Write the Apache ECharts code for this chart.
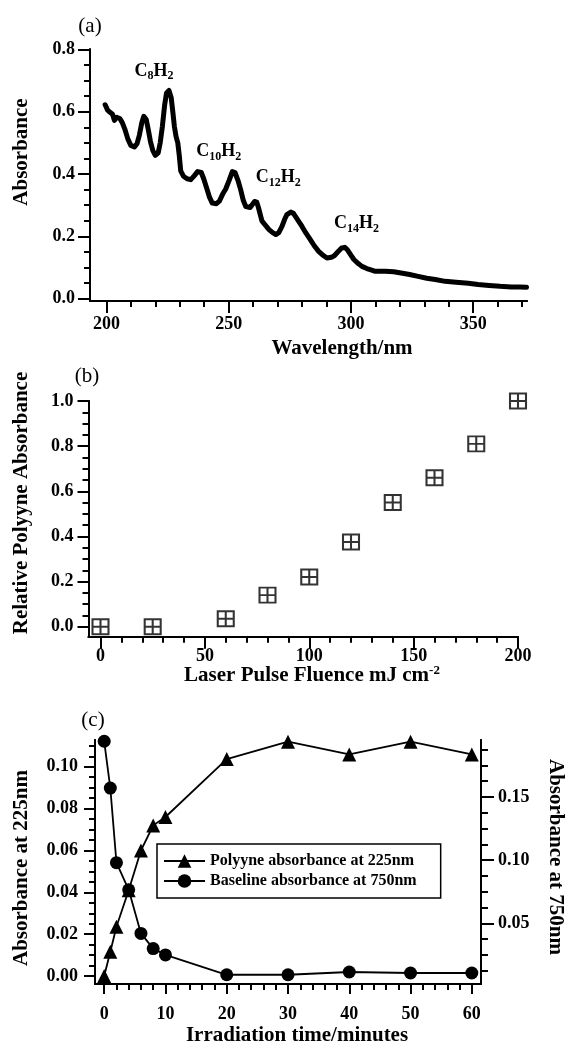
<!DOCTYPE html>
<html>
<head>
<meta charset="utf-8">
<script src="https://cdn.jsdelivr.net/npm/echarts@6/dist/echarts.min.js"></script>
<style>html,body{margin:0;padding:0;background:#fff}#chart{width:565px;height:1043px}</style>
</head>
<body>
<div id="chart"></div>
<script>
// ---------- Panel (a): absorption spectrum ----------
const wavelengthNm = [199.5,200.5,201.5,202.5,203.3,204.2,205.5,206.5,207.5,208.8,210.0,211.5,212.5,213.5,214.5,215.3,216.3,217.2,218.0,219.0,220.0,221.2,222.0,222.9,223.8,224.6,225.6,226.5,227.3,227.8,228.5,229.2,229.8,230.4,231.5,233.0,234.5,236.0,237.3,238.8,239.8,241.0,242.2,243.3,245.0,246.2,247.5,248.8,250.2,251.5,252.6,253.8,254.9,256.0,257.0,258.8,260.6,261.5,262.2,263.6,265.0,266.5,268.0,269.3,270.5,271.8,272.9,273.8,275.4,276.5,277.3,278.5,280.0,281.5,283.4,285.0,286.8,288.5,290.2,292.0,293.2,294.6,296.2,297.5,298.5,300.0,301.2,303.0,304.5,306.5,308.5,310.0,314.0,317.5,320.5,324.0,327.5,331.0,334.5,338.5,343.0,348.0,352.0,356.5,361.0,365.5,369.0,371.8];
const absorbanceA = [0.622,0.605,0.598,0.592,0.572,0.582,0.578,0.565,0.545,0.512,0.492,0.487,0.497,0.525,0.565,0.585,0.575,0.540,0.505,0.475,0.460,0.468,0.500,0.553,0.620,0.660,0.668,0.645,0.590,0.553,0.520,0.500,0.460,0.410,0.393,0.385,0.382,0.395,0.408,0.405,0.385,0.355,0.325,0.307,0.305,0.313,0.335,0.352,0.380,0.408,0.405,0.380,0.350,0.315,0.296,0.293,0.312,0.310,0.292,0.250,0.236,0.222,0.212,0.206,0.212,0.232,0.255,0.270,0.278,0.274,0.264,0.250,0.232,0.212,0.190,0.170,0.152,0.140,0.131,0.133,0.138,0.150,0.163,0.165,0.158,0.140,0.126,0.113,0.104,0.097,0.092,0.088,0.088,0.087,0.083,0.078,0.072,0.066,0.062,0.056,0.053,0.050,0.046,0.043,0.040,0.038,0.038,0.037];
const peakCarbons = ['8','10','12','14'];
const peakLabelWl = [219.5, 246.0, 270.3, 302.3];
const peakLabelAbs = [0.730, 0.472, 0.388, 0.241];
const aXMajor = [200,250,300,350];
const aXMinor = [210,220,230,240,260,270,280,290,310,320,330,340,360,370];
const aYMajor = [0,0.2,0.4,0.6,0.8];
const aYMinor = [0.05,0.1,0.15,0.25,0.3,0.35,0.45,0.5,0.55,0.65,0.7,0.75];

// ---------- Panel (b): fluence dependence ----------
const fluence = [0,25,60,80,100,120,140,160,180,200];
const relAbsorbance = [0.0,0.0,0.035,0.14,0.22,0.375,0.55,0.66,0.81,1.0];
const bXMajor = [0,50,100,150,200];
const bXMinor = [10,20,30,40,60,70,80,90,110,120,130,140,160,170,180,190];
const bYMajor = [0,0.2,0.4,0.6,0.8,1.0];
const bYMinor = [0.05,0.1,0.15,0.25,0.3,0.35,0.45,0.5,0.55,0.65,0.7,0.75,0.85,0.9,0.95];

// ---------- Panel (c): irradiation time ----------
const seriesNames = ['Polyyne absorbance at 225nm','Baseline absorbance at 750nm'];
const timeMin = [0,1,2,4,6,8,10,20,30,40,50,60];
const polyyne225 = [0.0,0.0116,0.0236,0.041,0.060,0.072,0.076,0.1037,0.112,0.1059,0.112,0.1059];
const baseline750 = [0.194,0.157,0.098,0.0765,0.042,0.030,0.025,0.0093,0.0093,0.0115,0.0107,0.0107];
const cXMajor = [0,10,20,30,40,50,60];
const cXMinor = [2,4,6,8,12,14,16,18,22,24,26,28,32,34,36,38,42,44,46,48,52,54,56,58];
const cYLMajor = [0,0.02,0.04,0.06,0.08,0.10];
const cYLMinor = [0.005,0.01,0.015,0.025,0.03,0.035,0.045,0.05,0.055,0.065,0.07,0.075,0.085,0.09,0.095,0.105,0.11];
const cYRMajor = [0.05,0.10,0.15];
const cYRMinor = [0.0125,0.025,0.0375,0.0625,0.075,0.0875,0.1125,0.125,0.1375,0.1625,0.175,0.1875];

const FONT = "'Liberation Serif', 'DejaVu Serif', serif";
const K = '#000';

function axisPair(gridIndex, min, max, position, majors, minors, majLen, minLen, margin, fmt) {
  const base = {
    type: 'value', gridIndex, min, max, position,
    splitLine: { show: false },
    axisLine: { show: true, onZero: false, lineStyle: { color: K, width: 2 } }
  };
  const main = Object.assign({}, base, {
    axisTick: { show: true, inside: false, length: majLen, customValues: majors, lineStyle: { color: K, width: 2 } },
    axisLabel: { show: true, customValues: majors, margin, color: K, fontFamily: FONT, fontWeight: 'bold', fontSize: 18, formatter: fmt }
  });
  const minor = Object.assign({}, base, {
    axisTick: { show: true, inside: false, length: minLen, customValues: minors, lineStyle: { color: K, width: 2 } },
    axisLabel: { show: false }
  });
  return [main, minor];
}

const xAxes = [].concat(
  axisPair(0, 193.3, 372, 'bottom', aXMajor, aXMinor, 12, 6, 14, v => String(v)),
  axisPair(1, -5.75, 200, 'bottom', bXMajor, bXMinor, 12, 6, 11, v => String(v)),
  axisPair(2, -1.5, 61.5, 'bottom', cXMajor, cXMinor, 10, 6, 21, v => String(v))
);
const yAxes = [].concat(
  axisPair(0, -0.007, 0.8, 'left', aYMajor, aYMinor, 12, 6, 15, v => v.toFixed(1)),
  axisPair(1, -0.0443, 1.0, 'left', bYMajor, bYMinor, 11, 6, 15, v => v.toFixed(1)),
  axisPair(2, -0.0038, 0.1128, 'left', cYLMajor, cYLMinor, 11, 6, 17, v => v.toFixed(2)),
  axisPair(2, 0.002, 0.195, 'right', cYRMajor, cYRMinor, 13, 7, 17, v => v.toFixed(2))
);

function title(text, x, y, rot, size, weight, rich) {
  const st = { text, fill: K, align: 'center', verticalAlign: 'middle', textAlign: 'center', textVerticalAlign: 'middle',
    font: (weight || 'bold') + ' ' + (size || 21) + 'px ' + FONT };
  if (rich) st.rich = rich;
  return { type: 'text', x, y, rotation: rot || 0, style: st, z: 100 };
}
const supRich = {
  m: { fontFamily: FONT, fontWeight: 'bold', fontSize: 21, lineHeight: 24, fill: K, color: K },
  sup: { fontFamily: FONT, fontWeight: 'bold', fontSize: 13, lineHeight: 12, verticalAlign: 'top', fill: K, color: K }
};

const peakData = peakCarbons.map((n, i) => ({ name: n, coord: [peakLabelWl[i], peakLabelAbs[i]] }));

const option = {
  backgroundColor: '#fff',
  animation: false,
  grid: [
    { left: 90, top: 49.3, width: 437, height: 251.7 },
    { left: 88.5, top: 401, width: 429.5, height: 235.7 },
    { left: 95, top: 740, width: 386, height: 244 }
  ],
  xAxis: xAxes,
  yAxis: yAxes,
  legend: {
    data: seriesNames,
    orient: 'vertical', left: 157, top: 844,
    itemWidth: 41, itemHeight: 17, itemGap: 4,
    padding: [9, 24, 9, 6],
    borderColor: K, borderWidth: 1.5,
    selectedMode: false,
    textStyle: { color: K, fontFamily: FONT, fontWeight: 'bold', fontSize: 16 }
  },
  graphic: [
    title('(a)', 90, 26, 0, 21, 'normal'),
    title('Absorbance', 22, 152, Math.PI / 2),
    title('Wavelength/nm', 342, 349, 0),
    title('(b)', 87, 376, 0, 21, 'normal'),
    title('Relative Polyyne Absorbance', 22, 503, Math.PI / 2),
    title('{m|Laser Pulse Fluence mJ cm}{sup|-2}', 312, 676, 0, 21, 'bold', supRich),
    title('(c)', 93, 720, 0, 21, 'normal'),
    title('Absorbance at 225nm', 22, 868, Math.PI / 2),
    title('Absorbance at 750nm', 555, 857, -Math.PI / 2),
    title('Irradiation time/minutes', 297, 1036, 0)
  ],
  series: [
    {
      type: 'line', xAxisIndex: 0, yAxisIndex: 0,
      data: wavelengthNm.map((w, i) => [w, absorbanceA[i]]),
      showSymbol: false, symbol: 'none',
      lineStyle: { color: K, width: 5, join: 'round', cap: 'round' },
      itemStyle: { color: K },
      clip: false,
      markPoint: {
        symbol: 'circle', symbolSize: 1,
        itemStyle: { color: 'rgba(0,0,0,0)' },
        label: {
          show: true, position: 'inside',
          formatter: p => '{m|C}{s|' + p.name + '}{m|H}{s|2}',
          rich: {
            m: { fontFamily: FONT, fontWeight: 'bold', fontSize: 18, lineHeight: 22, color: K },
            s: { fontFamily: FONT, fontWeight: 'bold', fontSize: 12, lineHeight: 10, verticalAlign: 'bottom', color: K }
          }
        },
        data: peakData
      }
    },
    {
      type: 'scatter', xAxisIndex: 2, yAxisIndex: 2,
      data: fluence.map((f, i) => [f, relAbsorbance[i]]),
      symbol: 'path://M0,0L16,0L16,16L0,16Z M8,0L8,16 M0,8L16,8',
      symbolSize: [16, 15],
      itemStyle: { color: 'rgba(255,255,255,0)', borderColor: K, borderWidth: 2 },
      clip: false
    },
    {
      name: seriesNames[0], type: 'line', xAxisIndex: 4, yAxisIndex: 4,
      data: timeMin.map((t, i) => [t, polyyne225[i]]),
      symbol: 'triangle', symbolSize: 14,
      lineStyle: { color: K, width: 1.8 },
      itemStyle: { color: K },
      clip: false
    },
    {
      name: seriesNames[1], type: 'line', xAxisIndex: 4, yAxisIndex: 6,
      data: timeMin.map((t, i) => [t, baseline750[i]]),
      symbol: 'circle', symbolSize: 13,
      lineStyle: { color: K, width: 1.8 },
      itemStyle: { color: K },
      clip: false
    }
  ]
};

const chart = echarts.init(document.getElementById('chart'), null, { renderer: 'canvas' });
chart.setOption(option);
</script>
</body>
</html>
